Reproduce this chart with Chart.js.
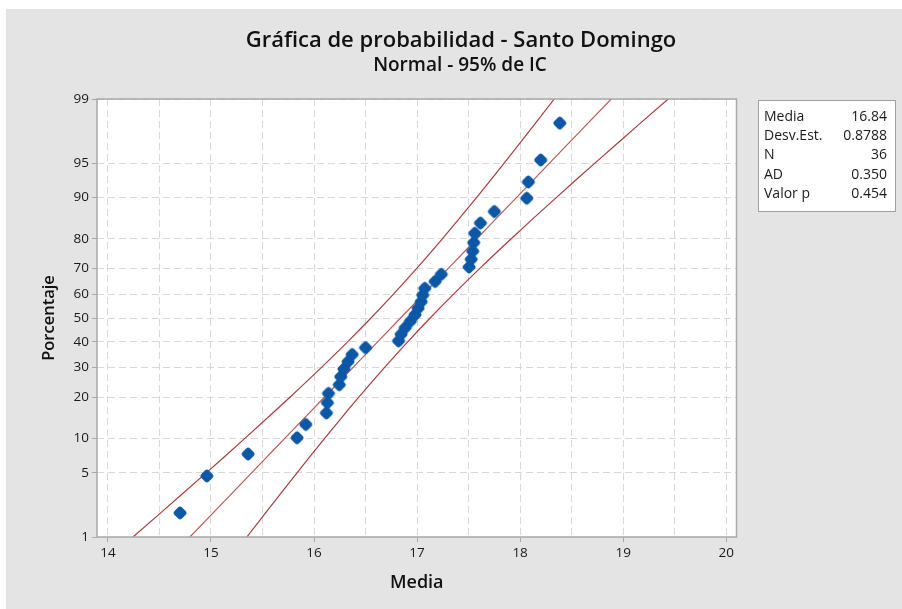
<!DOCTYPE html>
<html><head><meta charset="utf-8">
<script src="https://cdn.jsdelivr.net/npm/chart.js@4.4.1/dist/chart.umd.min.js"></script>
<style>html,body{margin:0;padding:0;background:#fff;overflow:hidden}#wrap{position:absolute;left:0;top:0;width:902px;height:609px}</style>
</head><body><div id="wrap"><canvas id="c" width="902" height="609"></canvas></div>
<script>
// ---- data ----
const mediaValues = [14.70,14.96,15.36,15.835,15.92,16.12,16.13,16.14,16.245,16.26,16.29,16.33,16.37,16.50,
  16.82,16.845,16.885,16.935,16.98,17.01,17.04,17.055,17.075,17.175,17.235,17.505,17.525,17.54,17.55,17.56,
  17.615,17.75,18.065,18.08,18.20,18.385];
const percentValues = [1.92,4.67,7.42,10.16,12.91,15.66,18.41,21.15,23.90,26.65,29.40,32.14,34.89,37.64,
  40.38,43.13,45.88,48.63,51.37,54.12,56.87,59.62,62.36,65.11,67.86,70.60,73.35,76.10,78.85,81.59,
  84.34,87.09,89.84,92.58,95.33,98.08];
const xGridValues = [14,14.5,15,15.5,16,16.5,17,17.5,18,18.5,19,19.5,20];
const yTickLabels = [1,5,10,20,30,40,50,60,70,80,90,95,99];
const statLabels = ['Media','Desv.Est.','N','AD','Valor p'];
const statValues = ['16.84','0.8788','36','0.350','0.454'];
const fitMean = 16.84, fitSd = 0.8788, fitN = 36;
const curvePercents = [0.1,0.2,0.5,1,2,3,5,7,10,15,20,30,40,50,60,70,80,85,90,93,95,97,98,99,99.5,99.8,99.9];

function probit(p){
 const a=[-3.969683028665376e+01,2.209460984245205e+02,-2.759285104469687e+02,1.383577518672690e+02,-3.066479806614716e+01,2.506628277459239e+00];
 const b=[-5.447609879822406e+01,1.615858368580409e+02,-1.556989798598866e+02,6.680131188771972e+01,-1.328068155288572e+01];
 const c=[-7.784894002430293e-03,-3.223964580411365e-01,-2.400758277161838e+00,-2.549732539343734e+00,4.374664141464968e+00,2.938163982698783e+00];
 const d=[7.784695709041462e-03,3.224671290700398e-01,2.445134137142996e+00,3.754408661907416e+00];
 const pl=0.02425, ph=1-pl; let q,r;
 if(p<pl){q=Math.sqrt(-2*Math.log(p));return (((((c[0]*q+c[1])*q+c[2])*q+c[3])*q+c[4])*q+c[5])/((((d[0]*q+d[1])*q+d[2])*q+d[3])*q+1);}
 if(p<=ph){q=p-0.5;r=q*q;return (((((a[0]*r+a[1])*r+a[2])*r+a[3])*r+a[4])*r+a[5])*q/(((((b[0]*r+b[1])*r+b[2])*r+b[3])*r+b[4])*r+1);}
 q=Math.sqrt(-2*Math.log(1-p));return -(((((c[0]*q+c[1])*q+c[2])*q+c[3])*q+c[4])*q+c[5])/((((d[0]*q+d[1])*q+d[2])*q+d[3])*q+1);
}

const z975 = 1.959964;
const pts = mediaValues.map((v,i)=>({x:v, y:probit(percentValues[i]/100)}));
const fitLine = curvePercents.map(p=>{const z=probit(p/100);return {x:fitMean+z*fitSd,y:z};});
const hw = z=> z975*fitSd*Math.sqrt(1/fitN + z*z/(2*fitN));
const lowBand = curvePercents.map(p=>{const z=probit(p/100);return {x:fitMean+z*fitSd-hw(z),y:z};});
const highBand = curvePercents.map(p=>{const z=probit(p/100);return {x:fitMean+z*fitSd+hw(z),y:z};});

const FONT = "'Open Sans', 'Noto Sans', sans-serif";

// rounded diamond marker
const mk=document.createElement('canvas'); mk.width=18; mk.height=18;
(function(){const m=mk.getContext('2d');m.fillStyle='#0c57a6';m.translate(9,9);m.rotate(Math.PI/4);
  const s=10.6,r=2.8,h=s/2;m.beginPath();m.moveTo(-h+r,-h);m.lineTo(h-r,-h);m.quadraticCurveTo(h,-h,h,-h+r);
  m.lineTo(h,h-r);m.quadraticCurveTo(h,h,h-r,h);m.lineTo(-h+r,h);m.quadraticCurveTo(-h,h,-h,h-r);
  m.lineTo(-h,-h+r);m.quadraticCurveTo(-h,-h,-h+r,-h);m.closePath();m.fill();})();

const bgPlugin = {
  id:'bg',
  beforeDraw(chart){
    const ctx=chart.ctx;
    ctx.save();
    ctx.fillStyle='#ffffff';ctx.fillRect(0,0,902,609);
    ctx.fillStyle='#e4e4e4';ctx.fillRect(6,9,896,600);
    const a=chart.chartArea;
    ctx.fillStyle='#ffffff';ctx.fillRect(a.left,a.top,a.right-a.left,a.bottom-a.top);
    ctx.restore();
  },
  afterDraw(chart){
    const ctx=chart.ctx, a=chart.chartArea;
    ctx.save();
    ctx.strokeStyle='#a8a8a8';ctx.lineWidth=1.5;
    ctx.strokeRect(a.left,a.top,a.right-a.left,a.bottom-a.top);
    // titles
    ctx.fillStyle='#111111';ctx.textAlign='center';ctx.textBaseline='middle';
    ctx.font="600 22px "+FONT;
    ctx.fillText('Gráfica de probabilidad - Santo Domingo',461,41);
    ctx.font="600 19px "+FONT;
    ctx.fillText('Normal - 95% de IC',460,66);
    // stats box
    ctx.fillStyle='#ffffff';ctx.fillRect(758.5,100.5,137,111);
    ctx.strokeStyle='#a0a0a0';ctx.lineWidth=1;ctx.strokeRect(758.5,100.5,137,111);
    ctx.font="14px "+FONT;ctx.fillStyle='#1a1a1a';
    statLabels.forEach((l,i)=>{
      const y=117+i*19.25;
      ctx.textAlign='left';ctx.fillText(l,764,y);
      ctx.textAlign='right';ctx.fillText(statValues[i],887,y);
    });
    ctx.restore();
  }
};

const lineColor='#a83c3c';
new Chart(document.getElementById('c'),{
  type:'scatter',
  data:{datasets:[
    {label:'Datos',data:pts,pointStyle:mk,pointRadius:6,backgroundColor:'#0c57a6',borderColor:'#0c57a6',showLine:false},
    {label:'Ajuste',data:fitLine,showLine:true,pointRadius:0,borderColor:'#b85a5a',borderWidth:1.2,cubicInterpolationMode:'monotone'},
    {label:'IC inf',data:lowBand,showLine:true,pointRadius:0,borderColor:lineColor,borderWidth:1.2,cubicInterpolationMode:'monotone'},
    {label:'IC sup',data:highBand,showLine:true,pointRadius:0,borderColor:lineColor,borderWidth:1.2,cubicInterpolationMode:'monotone'}
  ]},
  options:{
    responsive:false,animation:false,
    layout:{padding:{left:0,top:99,right:165.5,bottom:0}},
    plugins:{legend:{display:false},tooltip:{enabled:false},title:{display:false}},
    scales:{
      x:{type:'linear',min:13.894,max:20.10,
        afterBuildTicks(s){s.ticks=xGridValues.map(v=>({value:v}));},
        afterFit(s){s.height=72;},
        ticks:{autoSkip:false,maxRotation:0,padding:3,color:'#1a1a1a',font:{family:FONT,size:13.5},
          callback:(v)=>Number.isInteger(v)?String(v):''},
        grid:{color:'#d8d8d8',lineWidth:1,tickLength:5,tickBorderDash:[],
          tickColor:(ctx)=>ctx.tick&&Number.isInteger(ctx.tick.value)?'#a8a8a8':'rgba(0,0,0,0)'},
        border:{display:false,dash:[7,4]},
        title:{display:true,text:'Media',color:'#111',font:{family:FONT,size:18,weight:'600'},padding:{top:0,bottom:15.5}}
      },
      y:{type:'linear',min:probit(0.01),max:probit(0.99),
        afterBuildTicks(s){s.ticks=yTickLabels.map(p=>({value:probit(p/100)}));},
        afterFit(s){s.width=97;},
        ticks:{autoSkip:false,padding:3,color:'#1a1a1a',font:{family:FONT,size:13.5},
          callback:(v,i)=>String(yTickLabels[i])},
        grid:{color:'#d8d8d8',lineWidth:1,tickLength:5,tickBorderDash:[],tickColor:'#a8a8a8'},
        border:{display:false,dash:[7,4]},
        title:{display:true,text:'Porcentaje',color:'#111',font:{family:FONT,size:16.5,weight:'600'},padding:{top:39.5,bottom:0}}
      }
    }
  },
  plugins:[bgPlugin]
});
</script></body></html>
